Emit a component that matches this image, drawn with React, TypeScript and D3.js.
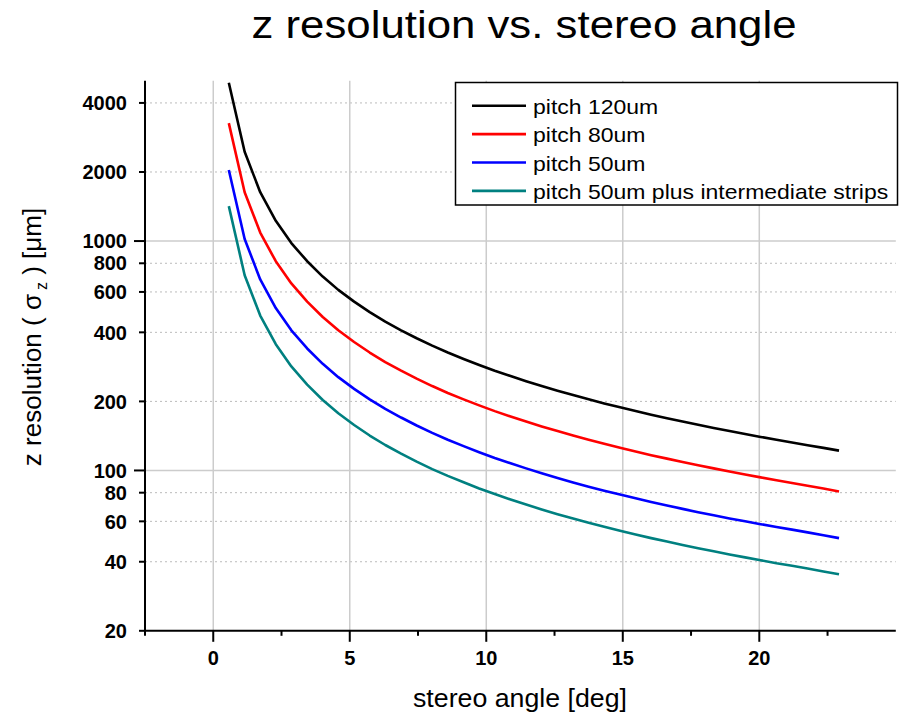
import * as d3 from "d3";

// stereo angle in degrees (one point per 0.01 rad)
const angles = [
  0.57, 1.15, 1.72, 2.29, 2.86, 3.44, 4.01, 4.58, 5.16, 5.73, 6.3, 6.88, 7.45, 8.02, 8.59, 9.17,
  9.74, 10.31, 10.89, 11.46, 12.03, 12.61, 13.18, 13.75, 14.32, 14.9, 15.47, 16.04, 16.62, 17.19,
  17.76, 18.33, 18.91, 19.48, 20.05, 20.63, 21.2, 21.77, 22.35, 22.92,
];

const pitch120 = [
  4900, 2450, 1633, 1225, 980, 816.7, 700, 612.5, 544.4, 490, 445.5, 408.3, 376.9, 350, 326.7,
  306.3, 288.2, 272.2, 257.9, 245, 233.3, 222.7, 213, 204.2, 196, 188.5, 181.5, 175, 169, 163.3,
  158.1, 153.1, 148.5, 144.1, 140, 136.1, 132.4, 128.9, 125.4, 122,
];
const pitch80 = [
  3266, 1633, 1088.7, 816.5, 653.2, 544.3, 466.6, 408.3, 362.9, 326.6, 296.9, 272.2, 251.2, 233.3,
  217.7, 204.1, 192.1, 181.4, 171.9, 163.3, 155.5, 148.5, 142, 136.1, 130.6, 125.6, 121, 116.6,
  112.6, 108.9, 105.4, 102.1, 99, 96.1, 93.3, 90.7, 88.2, 85.8, 83.4, 81,
];
const pitch50 = [
  2041, 1020.5, 680.3, 510.3, 408.2, 340.2, 291.6, 255.1, 226.8, 204.1, 185.5, 170.1, 157, 145.8,
  136.1, 127.6, 120.1, 113.4, 107.4, 102.1, 97.2, 92.8, 88.7, 85, 81.6, 78.5, 75.6, 72.9, 70.4, 68,
  65.8, 63.8, 61.8, 60, 58.3, 56.7, 55.2, 53.7, 52.2, 50.7,
];
const pitch50Inter = [
  1420, 710, 473.3, 355, 284, 236.7, 202.9, 177.5, 157.8, 142, 129.1, 118.3, 109.2, 101.4, 94.7,
  88.8, 83.5, 78.9, 74.7, 71, 67.6, 64.5, 61.7, 59.2, 56.8, 54.6, 52.6, 50.7, 49, 47.3, 45.8, 44.4,
  43, 41.8, 40.6, 39.4, 38.4, 37.4, 36.3, 35.3,
];

const seriesNames = [
  "pitch 120um",
  "pitch 80um",
  "pitch 50um",
  "pitch 50um plus intermediate strips",
];
const seriesValues = [pitch120, pitch80, pitch50, pitch50Inter];
const seriesColors = ["#000000", "#ff0000", "#0000ff", "#008080"];

const yTicks = [20, 40, 60, 80, 100, 200, 400, 600, 800, 1000, 2000, 4000];
const yMajor = [100, 1000];
const xMajor = [0, 5, 10, 15, 20];
const xMinor = [-2.5, 2.5, 7.5, 12.5, 17.5, 22.5];

export default function App() {
  const W = 901;
  const H = 715;
  const left = 145;
  const right = 895.8;
  const top = 80.7;
  const bottom = 630.8;

  const x = d3.scaleLinear().domain([-2.5, 25]).range([left, right]);
  const y = d3.scaleLog().domain([20, 5000]).range([bottom, top]);

  const line = d3
    .line<[number, number]>()
    .x((d) => x(d[0]))
    .y((d) => y(d[1]));

  const font = "Arial, 'Liberation Sans', sans-serif";

  return (
    <svg
      width={W}
      height={H}
      style={{ position: "absolute", left: 0, top: 0, display: "block", background: "#fff" }}
      fontFamily={font}
    >
      {/* grid */}
      {yTicks
        .filter((t) => t !== 20)
        .map((t) => (
          <line
            key={"gy" + t}
            x1={left}
            x2={right}
            y1={y(t)}
            y2={y(t)}
            stroke={yMajor.includes(t) ? "#cccccc" : "#bbbbbb"}
            strokeWidth={yMajor.includes(t) ? 1.5 : 1}
            strokeDasharray={yMajor.includes(t) ? undefined : "2,3"}
          />
        ))}
      {xMajor.map((t) => (
        <line
          key={"gx" + t}
          x1={x(t)}
          x2={x(t)}
          y1={top}
          y2={bottom}
          stroke="#cccccc"
          strokeWidth={1.5}
        />
      ))}

      {/* series */}
      {seriesValues.map((vals, i) => (
        <path
          key={"s" + i}
          d={line(angles.map((a, j) => [a, vals[j]] as [number, number])) || ""}
          fill="none"
          stroke={seriesColors[i]}
          strokeWidth={2.6}
          strokeLinejoin="round"
        />
      ))}

      {/* axes */}
      <line x1={left} x2={left} y1={top} y2={bottom + 1} stroke="#000" strokeWidth={2} />
      <line x1={left - 1} x2={right} y1={bottom} y2={bottom} stroke="#000" strokeWidth={2} />

      {yTicks.map((t) => (
        <g key={"ty" + t}>
          <line
            x1={left - (yMajor.includes(t) ? 11 : 6)}
            x2={left}
            y1={y(t)}
            y2={y(t)}
            stroke="#000"
            strokeWidth={2}
          />
          <text
            x={127}
            y={y(t)}
            dy="0.36em"
            textAnchor="end"
            fontWeight="bold"
            fontSize={20}
          >
            {t}
          </text>
        </g>
      ))}

      {xMajor.map((t) => (
        <g key={"tx" + t}>
          <line x1={x(t)} x2={x(t)} y1={bottom} y2={bottom + 11} stroke="#000" strokeWidth={2} />
          <text x={x(t)} y={665} textAnchor="middle" fontWeight="bold" fontSize={20}>
            {t}
          </text>
        </g>
      ))}
      {xMinor.map((t) => (
        <line
          key={"mx" + t}
          x1={x(t)}
          x2={x(t)}
          y1={bottom}
          y2={bottom + 5}
          stroke="#000"
          strokeWidth={2}
        />
      ))}

      {/* titles */}
      <text
        x={524}
        y={37.5}
        textAnchor="middle"
        fontSize={38}
        textLength={545}
        lengthAdjust="spacingAndGlyphs"
      >
        z resolution vs. stereo angle
      </text>
      <text
        x={520}
        y={707}
        textAnchor="middle"
        fontSize={25}
        textLength={214}
        lengthAdjust="spacingAndGlyphs"
      >
        stereo angle [deg]
      </text>
      <text transform="translate(41,337) rotate(-90)" textAnchor="middle" fontSize={26}>
        z resolution ( σ
        <tspan fontSize={16} dy={6} dx={4}>
          z
        </tspan>
        <tspan dy={-6}> ) [μm]</tspan>
      </text>

      {/* legend */}
      <rect x={455.5} y={82.5} width={442} height={122.5} fill="#fff" stroke="#000" strokeWidth={1.5} />
      {seriesNames.map((name, i) => {
        const ly = 105.7 + i * 28.4;
        return (
          <g key={"lg" + i}>
            <line x1={472} x2={526} y1={ly} y2={ly} stroke={seriesColors[i]} strokeWidth={2.6} />
            <g transform={`translate(533,${ly + 8}) scale(1.095,1)`}>
              <text x={0} y={0} fontSize={21}>
                {name}
              </text>
            </g>
          </g>
        );
      })}
    </svg>
  );
}
